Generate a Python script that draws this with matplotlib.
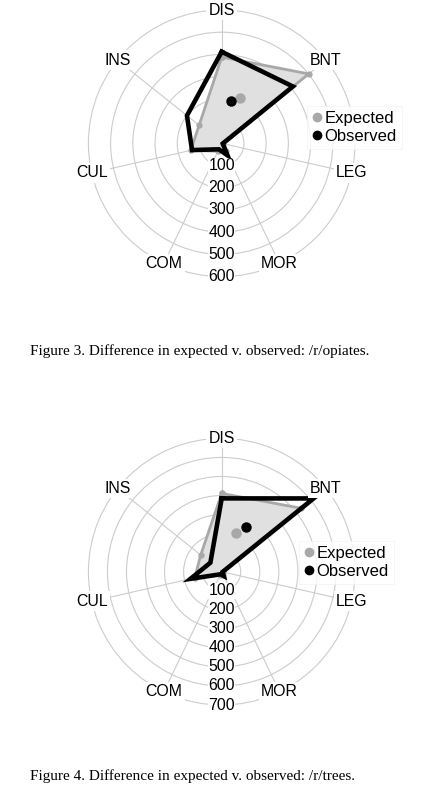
import matplotlib
matplotlib.use("Agg")
import matplotlib.pyplot as plt
import numpy as np
from matplotlib.lines import Line2D

categories = ["DIS", "BNT", "LEG", "MOR", "COM", "CUL", "INS"]

# /r/opiates
opi_expected = [388, 501, 5, 40, 40, 143, 130]
opi_observed = [412, 410, 5, 60, 30, 137, 200]
opi_centroid_exp = (22, 218)   # (angle in degrees, radius)
opi_centroid_obs = (12, 194)
opi_rings = [100, 200, 300, 400, 500, 600]

# /r/trees
tre_expected = [411, 534, 5, 20, 20, 145, 141]
tre_observed = [385, 617, 5, 25, 15, 168, 76]
tre_centroid_exp = (21, 216)
tre_centroid_obs = (29, 266)
tre_rings = [100, 200, 300, 400, 500, 600, 700]

captions = [
    "Figure 3. Difference in expected v. observed: /r/opiates.",
    "Figure 4. Difference in expected v. observed: /r/trees.",
]

SANS = "Liberation Sans"
SERIF = "Liberation Serif"
GRID = "#cccccc"
EXP_C = "#a8a8a8"
FILL_C = "#e0e0e0"

W, H = 432, 788
fig = plt.figure(figsize=(W / 100, H / 100), dpi=100)

theta = np.linspace(0, 2 * np.pi, len(categories), endpoint=False)
PADR = 1.02  # small margin so the outer ring is not clipped


def radar(rect, expected, observed, c_exp, c_obs, rings, legend_xy):
    ax = fig.add_axes(rect, projection="polar")
    ax.set_theta_zero_location("N")
    ax.set_theta_direction(-1)
    rmax = rings[-1]
    ax.set_ylim(0, rmax * PADR)
    ax.spines["polar"].set_visible(False)
    ax.set_xticks(theta)
    ax.set_xticklabels([])
    ax.set_yticks(rings)
    ax.set_yticklabels([])
    ax.grid(True, color=GRID, lw=0.8)
    ax.set_facecolor("none")
    for gl in ax.xaxis.get_gridlines():
        gl.set_clip_on(False)

    t = np.append(theta, theta[0])
    e = np.append(expected, expected[0])
    o = np.append(observed, observed[0])
    ax.fill(t, e, color=FILL_C, zorder=2)
    ax.plot(t, e, color=EXP_C, lw=2, marker="o", ms=3.5, zorder=3)
    ax.plot(t, o, color="black", lw=3.3, zorder=4, solid_joinstyle="miter")

    ax.plot(np.deg2rad(c_exp[0]), c_exp[1], "o", color=EXP_C, ms=6.5, zorder=5)
    ax.plot(np.deg2rad(c_obs[0]), c_obs[1], "o", color="black", ms=6.5, zorder=5)

    for th, name in zip(theta, categories):
        ax.text(th, rmax, name, ha="center", va="center", fontsize=11.4,
                family=SANS, zorder=6,
                bbox=dict(boxstyle="square,pad=0.15", fc="white", ec="none"))
    for r in rings:
        ax.text(np.pi, r, str(r), ha="center", va="center", fontsize=11.4,
                family=SANS, zorder=6,
                bbox=dict(boxstyle="square,pad=0.03", fc="white", ec="none"))

    handles = [
        Line2D([], [], ls="none", marker="o", ms=6, color=EXP_C, label="Expected"),
        Line2D([], [], ls="none", marker="o", ms=6, color="black", label="Observed"),
    ]
    leg = ax.legend(handles=handles, loc="center left",
                    bbox_to_anchor=legend_xy, bbox_transform=fig.transFigure,
                    prop=dict(family=SANS, size=12), frameon=True,
                    fancybox=False, borderpad=0.3, handlelength=0.6,
                    handletextpad=0.15, labelspacing=0.15, borderaxespad=0)
    leg.get_frame().set_edgecolor("#f2f2f2")
    leg.get_frame().set_linewidth(0.6)
    leg.set_zorder(7)
    return ax


R = 133.3 * PADR
cx = 221.7
for cy, exp_, obs_, ce, co, rings, leg_y, cap, cap_y in [
    (143.3, opi_expected, opi_observed, opi_centroid_exp, opi_centroid_obs,
     opi_rings, 127.5, captions[0], 351),
    (571.7, tre_expected, tre_observed, tre_centroid_exp, tre_centroid_obs,
     tre_rings, 562.4, captions[1], 776),
]:
    rect = [(cx - R) / W, 1 - (cy + R) / H, 2 * R / W, 2 * R / H]
    lx = 307 if cy < 300 else 299
    radar(rect, exp_, obs_, ce, co, rings, (lx / W, 1 - leg_y / H))
    fig.text(30 / W, 1 - cap_y / H, cap, ha="left", va="center",
             fontsize=11, family=SERIF)

fig.savefig("out.png", dpi=100)
